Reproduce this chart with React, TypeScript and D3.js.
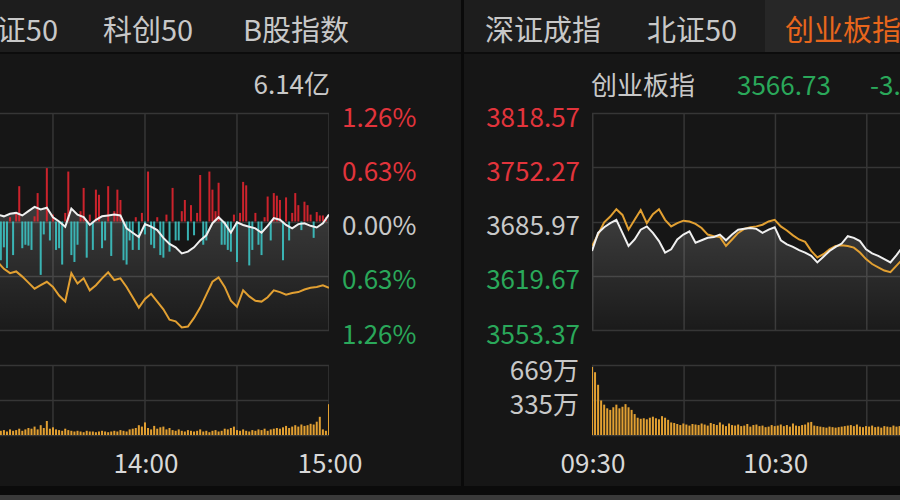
import React from 'react';
import * as d3 from 'd3';

const W = 900;
const H = 500;

// ---------- data ----------
const leftTabs = ['上证50', '科创50', 'B股指数'];
const rightTabs = ['深证成指', '北证50', '创业板指'];

const leftAmount = '6.14亿';
const rightName = '创业板指';
const rightPrice = '3566.73';
const rightChange = '-3.23%';

const pctTicks = [1.26, 0.63, 0, -0.63, -1.26];
const pctLabels = ['1.26%', '0.63%', '0.00%', '0.63%', '1.26%'];
const priceTicks = [3818.57, 3752.27, 3685.97, 3619.67, 3553.37];
const priceLabels = ['3818.57', '3752.27', '3685.97', '3619.67', '3553.37'];
const rightVolTicks = [669, 335];
const rightVolLabels = ['669万', '335万'];
const leftTimeTicks = [180, 240];
const leftTimeLabels = ['14:00', '15:00'];
const rightTimeTicks = [0, 60];
const rightTimeLabels = ['09:30', '10:30'];

// left panel: minutes since 09:30 (trading minutes)
const leftLineStart = 132; // step 2 min
const leftWhite = [0.08, 0.06, 0.09, 0.10, 0.07, 0.12, 0.17, 0.14, 0.16, 0.05,
  0.00, -0.06, 0.15, 0.08, 0.05, -0.04, 0.02, 0.06, 0.07, 0.08,
  0.07, -0.08, -0.13, -0.18, -0.03, -0.06, -0.10, -0.19, -0.26, -0.30,
  -0.37, -0.35, -0.30, -0.22, -0.16, -0.02, 0.05, -0.02, -0.13, -0.01,
  -0.04, -0.06, -0.08, -0.13, -0.05, 0.04, 0.02, -0.04, -0.08, -0.03,
  -0.02, -0.05, -0.07, -0.02, 0.08];
const leftOrange = [-0.47, -0.55, -0.60, -0.58, -0.64, -0.71, -0.78, -0.74, -0.70, -0.76,
  -0.86, -0.93, -0.60, -0.72, -0.66, -0.80, -0.74, -0.66, -0.59, -0.68,
  -0.66, -0.76, -0.88, -1.00, -0.90, -0.84, -0.93, -1.02, -1.14, -1.16,
  -1.23, -1.22, -1.12, -1.00, -0.85, -0.70, -0.65, -0.76, -0.92, -0.99,
  -0.80, -0.87, -0.92, -0.93, -0.88, -0.80, -0.82, -0.85, -0.83, -0.82,
  -0.79, -0.77, -0.76, -0.74, -0.77];
const leftBarStart = 133; // step 1 min
const leftBars = [-0.45, -0.30, -0.54, 0.05, -0.39, 0.10, 0.41, -0.31, -0.27, -0.28,
  -0.33, 0.06, 0.33, -0.62, -0.15, 0.62, -0.22, 0.08, -0.33, -0.31,
  -0.50, 0.10, 0.58, -0.39, -0.47, -0.27, 0.12, 0.39, -0.42, 0.08,
  -0.33, 0.37, 0.31, -0.31, -0.22, 0.41, -0.40, 0.12, 0.37, 0.25,
  -0.45, -0.50, -0.22, -0.33, 0.05, -0.33, 0.10, -0.15, 0.58, -0.27,
  -0.31, 0.05, -0.39, -0.42, 0.08, -0.35, 0.39, -0.22, -0.22, 0.12,
  0.25, -0.22, 0.19, -0.16, 0.10, 0.54, -0.27, -0.22, 0.58, 0.37,
  0.12, 0.45, -0.27, -0.27, -0.33, -0.35, 0.08, -0.47, 0.10, 0.46,
  0.42, -0.51, -0.33, 0.10, -0.27, -0.39, 0.05, 0.29, -0.22, 0.33,
  0.30, 0.25, -0.45, 0.28, -0.22, 0.10, 0.33, 0.19, -0.10, 0.23,
  0.19, 0.08, -0.19, 0.11, 0.07, 0.07, 0.05];
const leftVolStart = 133;
const leftVolume = [6, 7, 5, 8, 6, 7, 9, 6, 8, 10,
  9, 12, 8, 14, 10, 20, 9, 11, 8, 7,
  6, 9, 7, 6, 5, 6, 5, 4, 6, 5,
  5, 4, 5, 6, 5, 4, 5, 6, 5, 7,
  6, 5, 8, 9, 10, 14, 12, 18, 10, 8,
  13, 9, 11, 12, 8, 10, 7, 6, 8, 6,
  5, 7, 6, 5, 6, 8, 5, 6, 4, 6,
  7, 5, 6, 9, 8, 10, 12, 7, 6, 8,
  6, 5, 7, 6, 8, 7, 9, 6, 8, 9,
  10, 9, 11, 13, 10, 12, 14, 12, 15, 13,
  14, 16, 15, 19, 26, 8, 6, 44];

// right panel
const rightLineStart = 0; // step 2 min
const rightWhite = [3650, 3672, 3679, 3684, 3688, 3672, 3656, 3664, 3676, 3680,
  3672, 3662, 3648, 3652, 3664, 3670, 3674, 3660, 3663, 3666,
  3667, 3670, 3663, 3670, 3676, 3677, 3678, 3677, 3672, 3676,
  3679, 3663, 3658, 3655, 3651, 3648, 3644, 3636, 3643, 3650,
  3655, 3659, 3668, 3666, 3662, 3652, 3647, 3644, 3640, 3636,
  3645, 3655];
const rightOrange = [3656, 3670, 3685, 3692, 3701, 3694, 3676, 3688, 3700, 3684,
  3695, 3701, 3688, 3680, 3684, 3687, 3686, 3683, 3678, 3670,
  3668, 3667, 3656, 3664, 3672, 3677, 3679, 3680, 3682, 3686,
  3688, 3680, 3675, 3669, 3664, 3661, 3650, 3642, 3646, 3652,
  3656, 3657, 3656, 3654, 3648, 3640, 3634, 3630, 3626, 3624,
  3632, 3640];
const rightVolStart = 0;
const rightVolume = [650, 600, 480, 330, 290, 255, 240, 265, 290, 255,
  270, 295, 265, 240, 200, 165, 155, 160, 150, 165,
  175, 160, 150, 180, 165, 145, 120, 115, 105, 95,
  110, 100, 90, 105, 100, 95, 110, 100, 90, 115,
  105, 95, 120, 100, 85, 110, 95, 90, 100, 85,
  90, 105, 80, 95, 100, 85, 90, 75, 80, 95,
  85, 90, 100, 85, 95, 80, 110, 90, 85, 95,
  100, 120, 125, 90, 85, 80, 75, 70, 80, 75,
  70, 75, 80, 85, 90, 95, 85, 100, 80, 75,
  85, 80, 90, 75, 80, 70, 85, 80, 75, 90,
  80, 85];

// ---------- styles ----------
const BG = '#161616';
const TABBG = '#1d1d1d';
const GRID = '#363636';
const TXT = '#c8c8c8';
const RED = '#e2343c';
const GREEN = '#2aa85a';
const CYAN = '#3cc3c3';
const BARRED = '#e0252f';
const ORANGE = '#e2a032';
const ACTIVE = '#e8661c';
const FONT = '"Noto Sans CJK SC", "Noto Sans", sans-serif';

const PT = 113, PB = 330, VT = 365, VB = 435;

export default function App() {
  const lx = d3.scaleLinear().domain([0, 240]).range([329 - 240 * 3.067, 329]);
  const ly = d3.scaleLinear().domain([-1.26, 1.26]).range([PB, PT]);
  const lv = d3.scaleLinear().domain([0, 100]).range([VB, VT]);
  const rx = d3.scaleLinear().domain([0, 240]).range([592, 592 + 240 * 3.045]);
  const ry = d3.scaleLinear().domain([3553.37, 3818.57]).range([PB, PT]);
  const rv = d3.scaleLinear().domain([0, 669]).range([VB, VT]);

  const lLine = (arr: number[]) =>
    d3.line<number>().x((_, i) => lx(leftLineStart + i * 2)).y((d) => ly(d))(arr) || '';
  const lArea = d3.area<number>().x((_, i) => lx(leftLineStart + i * 2)).y0(PB).y1((d) => ly(d))(leftWhite) || '';
  const rLine = (arr: number[]) =>
    d3.line<number>().x((_, i) => rx(rightLineStart + i * 2)).y((d) => ry(d))(arr) || '';
  const rArea = d3.area<number>().x((_, i) => rx(rightLineStart + i * 2)).y0(PB).y1((d) => ry(d))(rightWhite) || '';

  const leftVGrid = [150, 180, 210, 240];
  const rightVGrid = [0, 30, 60, 90, 120];

  const pctColor = (v: number) => (v > 0 ? RED : v < 0 ? GREEN : TXT);
  const priceColor = (v: number) => (v > 3685.97 ? RED : v < 3685.97 ? GREEN : TXT);

  return (
    <svg width={W} height={H} style={{ position: 'fixed', left: 0, top: 0, display: 'block' }}
      fontFamily={FONT}>
      <defs>
        <clipPath id="clipL"><rect x={0} y={0} width={329} height={500} /></clipPath>
        <clipPath id="clipR"><rect x={592} y={0} width={308} height={500} /></clipPath>
        <linearGradient id="gArea" x1="0" y1="0" x2="0" y2="1">
          <stop offset="0%" stopColor="#ffffff" stopOpacity={0.16} />
          <stop offset="100%" stopColor="#ffffff" stopOpacity={0.02} />
        </linearGradient>
      </defs>
      <rect x={0} y={0} width={W} height={H} fill={BG} />

      {/* tab bar */}
      <rect x={0} y={0} width={W} height={52} fill={TABBG} />
      <rect x={765} y={0} width={135} height={52} fill="#272727" />
      <rect x={0} y={52} width={W} height={2} fill="#0c0c0c" />
      <rect x={461} y={0} width={3} height={486} fill="#0a0a0a" />
      <text x={58} y={28} textAnchor="end" dominantBaseline="central" fontSize={29} fill={TXT}>{leftTabs[0]}</text>
      <text x={103} y={28} dominantBaseline="central" fontSize={29} fill={TXT}>{leftTabs[1]}</text>
      <text x={243} y={28} dominantBaseline="central" fontSize={29} fill={TXT}>{leftTabs[2]}</text>
      <text x={485} y={28} dominantBaseline="central" fontSize={29} fill={TXT}>{rightTabs[0]}</text>
      <text x={647} y={28} dominantBaseline="central" fontSize={29} fill={TXT}>{rightTabs[1]}</text>
      <text x={785} y={28} dominantBaseline="central" fontSize={29} fill={ACTIVE}>{rightTabs[2]}</text>

      {/* header row */}
      <text x={330} y={82} textAnchor="end" dominantBaseline="central" fontSize={26} fill={TXT}>{leftAmount}</text>
      <text x={591} y={83} dominantBaseline="central" fontSize={26} fill={TXT}>{rightName}</text>
      <text x={737} y={83} dominantBaseline="central" fontSize={26} fill={GREEN}>{rightPrice}</text>
      <text x={870} y={83} dominantBaseline="central" fontSize={26} fill={GREEN}>{rightChange}</text>

      {/* ===== left panel ===== */}
      <g clipPath="url(#clipL)">
        {pctTicks.map((t, i) => (
          <line key={'lh' + i} x1={0} x2={329} y1={Math.round(ly(t)) + 0.5} y2={Math.round(ly(t)) + 0.5} stroke={GRID} strokeWidth={1.5} />
        ))}
        {[VT, (VT + VB) / 2, VB].map((y, i) => (
          <line key={'lvh' + i} x1={0} x2={329} y1={Math.round(y) + 0.5} y2={Math.round(y) + 0.5} stroke={GRID} strokeWidth={1.5} />
        ))}
        {leftVGrid.map((m, i) => (
          <g key={'lv' + i}>
            <line x1={lx(m)} x2={lx(m)} y1={PT} y2={PB} stroke={GRID} strokeWidth={1.5} />
            <line x1={lx(m)} x2={lx(m)} y1={VT} y2={VB} stroke={GRID} strokeWidth={1.5} />
          </g>
        ))}
        <path d={lArea} fill="url(#gArea)" />
        {leftBars.map((v, i) => {
          const x = lx(leftBarStart + i);
          const y0 = ly(0), y1 = ly(v);
          return <rect key={'lb' + i} x={x - 1} width={2} y={Math.min(y0, y1)} height={Math.abs(y1 - y0)} fill={v >= 0 ? BARRED : CYAN} opacity={0.9} />;
        })}
        <path d={lLine(leftOrange)} fill="none" stroke={ORANGE} strokeWidth={2} />
        <path d={lLine(leftWhite)} fill="none" stroke="#f0f0f0" strokeWidth={2} />
        {leftVolume.map((v, i) => {
          const x = lx(leftVolStart + i);
          return <rect key={'lvol' + i} x={x - 1} width={2} y={lv(v)} height={VB - lv(v)} fill={ORANGE} />;
        })}
      </g>
      {pctTicks.map((t, i) => (
        <text key={'lt' + i} x={342} y={ly(t) + 2} dominantBaseline="central" fontSize={26} fill={pctColor(t)}>{pctLabels[i]}</text>
      ))}
      {leftTimeTicks.map((m, i) => (
        <text key={'ltt' + i} x={lx(m) + 1} y={461} textAnchor="middle" dominantBaseline="central" fontSize={26} fill="#d8d8d8">{leftTimeLabels[i]}</text>
      ))}

      {/* ===== right panel ===== */}
      <g clipPath="url(#clipR)">
        {priceTicks.map((t, i) => (
          <line key={'rh' + i} x1={592} x2={900} y1={Math.round(ry(t)) + 0.5} y2={Math.round(ry(t)) + 0.5} stroke={GRID} strokeWidth={1.5} />
        ))}
        {[VT, (VT + VB) / 2, VB].map((y, i) => (
          <line key={'rvh' + i} x1={592} x2={900} y1={Math.round(y) + 0.5} y2={Math.round(y) + 0.5} stroke={GRID} strokeWidth={1.5} />
        ))}
        {rightVGrid.map((m, i) => (
          <g key={'rv' + i}>
            <line x1={rx(m) + 0.75} x2={rx(m) + 0.75} y1={PT} y2={PB} stroke={GRID} strokeWidth={1.5} />
            <line x1={rx(m) + 0.75} x2={rx(m) + 0.75} y1={VT} y2={VB} stroke={GRID} strokeWidth={1.5} />
          </g>
        ))}
        <path d={rArea} fill="url(#gArea)" />
        <path d={rLine(rightOrange)} fill="none" stroke={ORANGE} strokeWidth={2} />
        <path d={rLine(rightWhite)} fill="none" stroke="#f0f0f0" strokeWidth={2} />
        {rightVolume.map((v, i) => {
          const x = rx(rightVolStart + i);
          return <rect key={'rvol' + i} x={x - 1} width={2} y={rv(v)} height={VB - rv(v)} fill={ORANGE} />;
        })}
      </g>
      {priceTicks.map((t, i) => (
        <text key={'rt' + i} x={580} y={ry(t) + 2} textAnchor="end" dominantBaseline="central" fontSize={26} fill={priceColor(t)}>{priceLabels[i]}</text>
      ))}
      {rightVolTicks.map((v, i) => (
        <text key={'rvt' + i} x={579} y={rv(v) + 3} textAnchor="end" dominantBaseline="central" fontSize={26} fill={TXT}>{rightVolLabels[i]}</text>
      ))}
      {rightTimeTicks.map((m, i) => (
        <text key={'rtt' + i} x={rx(m) + 1} y={461} textAnchor="middle" dominantBaseline="central" fontSize={26} fill="#d8d8d8">{rightTimeLabels[i]}</text>
      ))}

      {/* bottom strip */}
      <rect x={0} y={486} width={W} height={9} fill="#0b0b0b" />
      <rect x={0} y={495} width={W} height={5} fill="#3a3a3a" />
    </svg>
  );
}
